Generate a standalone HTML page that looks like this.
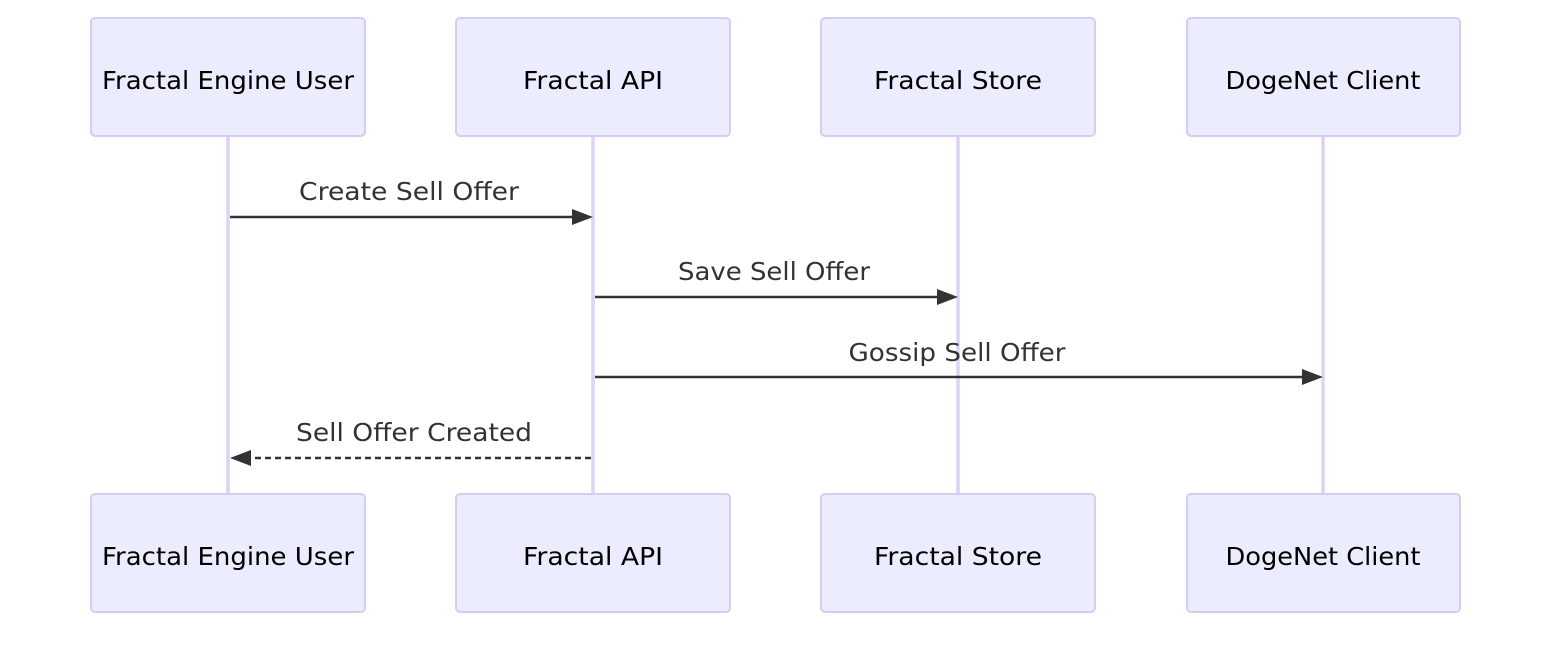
<!DOCTYPE html>
<html><head><style>html,body{margin:0;padding:0;background:#fff}</style></head>
<body>
<svg width="1568" height="642" xmlns="http://www.w3.org/2000/svg" font-family="'DejaVu Sans', 'Liberation Sans', sans-serif">
<g stroke="#ddd3f5" stroke-width="3.5">
<line x1="228" y1="136" x2="228" y2="494"/>
<line x1="593" y1="136" x2="593" y2="494"/>
<line x1="958" y1="136" x2="958" y2="494"/>
<line x1="1323" y1="136" x2="1323" y2="494"/>
</g>
<g fill="#ECECFF" stroke="#d6ccf3" stroke-width="2">
<rect x="91" y="18" width="274" height="118" rx="4"/>
<rect x="456" y="18" width="274" height="118" rx="4"/>
<rect x="821" y="18" width="274" height="118" rx="4"/>
<rect x="1187" y="18" width="273" height="118" rx="4"/>
<rect x="91" y="494" width="274" height="118" rx="4"/>
<rect x="456" y="494" width="274" height="118" rx="4"/>
<rect x="821" y="494" width="274" height="118" rx="4"/>
<rect x="1187" y="494" width="273" height="118" rx="4"/>
</g>
<g font-size="25" fill="#000" text-anchor="middle">
<text x="228" y="89" textLength="252" lengthAdjust="spacingAndGlyphs">Fractal Engine User</text>
<text x="593" y="89" textLength="140" lengthAdjust="spacingAndGlyphs">Fractal API</text>
<text x="958" y="89" textLength="168" lengthAdjust="spacingAndGlyphs">Fractal Store</text>
<text x="1323" y="89" textLength="195" lengthAdjust="spacingAndGlyphs">DogeNet Client</text>
<text x="228" y="565" textLength="252" lengthAdjust="spacingAndGlyphs">Fractal Engine User</text>
<text x="593" y="565" textLength="140" lengthAdjust="spacingAndGlyphs">Fractal API</text>
<text x="958" y="565" textLength="168" lengthAdjust="spacingAndGlyphs">Fractal Store</text>
<text x="1323" y="565" textLength="195" lengthAdjust="spacingAndGlyphs">DogeNet Client</text>
</g>
<g font-size="25" fill="#333" text-anchor="middle">
<text x="409" y="200" textLength="220" lengthAdjust="spacingAndGlyphs">Create Sell Offer</text>
<text x="774" y="280" textLength="192" lengthAdjust="spacingAndGlyphs">Save Sell Offer</text>
<text x="957" y="361" textLength="217" lengthAdjust="spacingAndGlyphs">Gossip Sell Offer</text>
<text x="414" y="441" textLength="236" lengthAdjust="spacingAndGlyphs">Sell Offer Created</text>
</g>
<g stroke="#333" stroke-width="2.5" fill="none">
<line x1="230" y1="217" x2="575" y2="217"/>
<line x1="595" y1="297" x2="940" y2="297"/>
<line x1="595" y1="377" x2="1305" y2="377"/>
<line x1="591" y1="458" x2="248" y2="458" stroke-dasharray="6,4"/>
</g>
<g fill="#333">
<polygon points="593,217 572,209 572,225"/>
<polygon points="958,297 937,289 937,305"/>
<polygon points="1323,377 1302,369 1302,385"/>
<polygon points="230,458 251,450 251,466"/>
</g>
</svg>
</body></html>
